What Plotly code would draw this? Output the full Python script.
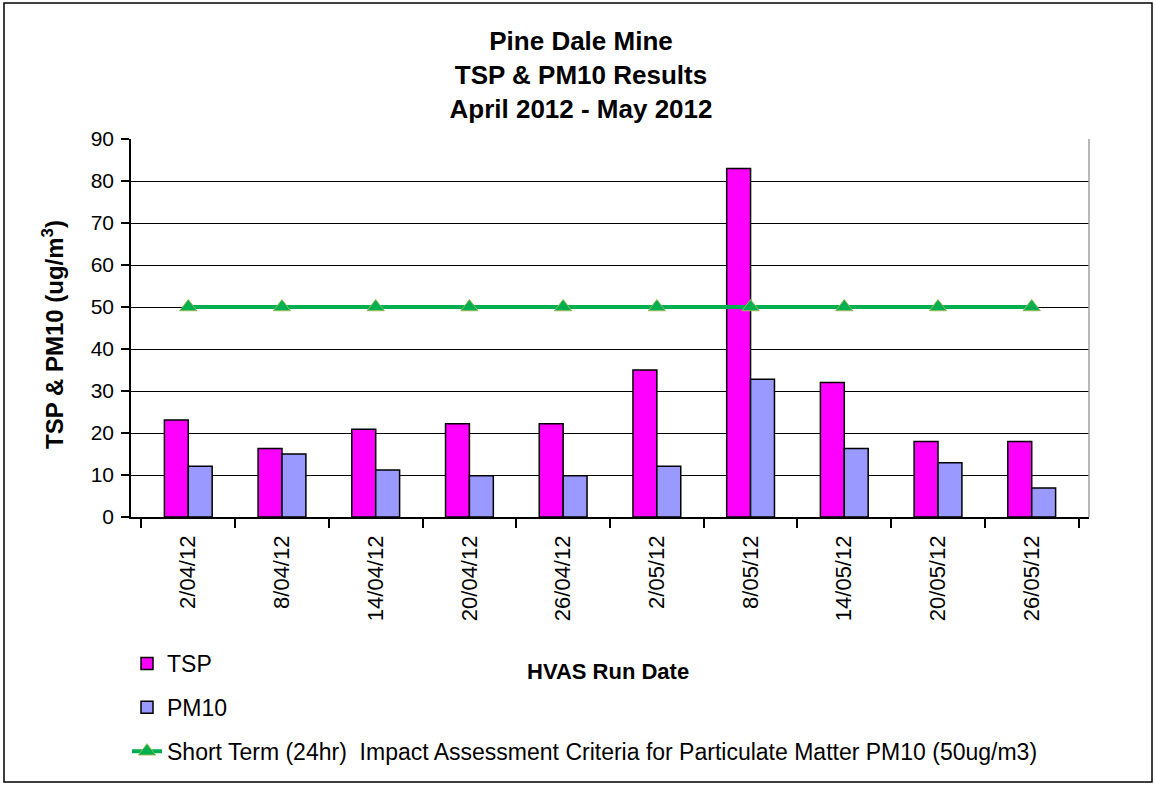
import plotly.graph_objects as go

dates = ["2/04/12", "8/04/12", "14/04/12", "20/04/12", "26/04/12",
         "2/05/12", "8/05/12", "14/05/12", "20/05/12", "26/05/12"]
tsp = [23.1, 16.3, 20.9, 22.2, 22.2, 35.0, 83.0, 32.0, 18.0, 18.0]
pm10 = [12.1, 15.0, 11.2, 9.8, 9.8, 12.1, 32.8, 16.3, 12.9, 6.9]
criteria = [50] * 10
yticks = [0, 10, 20, 30, 40, 50, 60, 70, 80, 90]

W, H = 1155, 785
L, R, T, B = 131, 1089, 139, 517

def px(x):
    return (x - L) / (R - L)

def py(y):
    return (B - y) / (B - T)

fig = go.Figure()
fig.add_trace(go.Bar(x=dates, y=tsp, name="TSP", marker=dict(color="#FF00FF", line=dict(color="black", width=1.5)),
                     legendgroup="a"))
fig.add_trace(go.Bar(x=dates, y=pm10, name="PM10", marker=dict(color="#9999FF", line=dict(color="black", width=1.5)),
                     legendgroup="b"))
fig.add_trace(go.Scatter(x=dates, y=criteria, mode="lines+markers",
                         name="Short Term (24hr)  Impact Assessment Criteria for Particulate Matter PM10 (50ug/m3)",
                         line=dict(color="#00B050", width=4),
                         marker=dict(symbol="triangle-up", size=15, color="#00B050", line=dict(color="#9BBB59", width=1)),
                         legendgroup="c"))

font = "Arial, Liberation Sans, sans-serif"
fig.update_layout(
    width=W, height=H,
    margin=dict(l=L, r=W - R, t=T, b=H - B, autoexpand=False),
    paper_bgcolor="white", plot_bgcolor="white",
    font=dict(family=font, size=20, color="black"),
    barmode="group", bargap=0.49, bargroupgap=0,
    title=dict(text="<b>Pine Dale Mine<br>TSP & PM10 Results<br>April 2012 - May 2012</b>",
               x=px(581), xref="paper", xanchor="center", yref="container", y=1 - 50 / H, yanchor="top",
               font=dict(size=26, family=font)),
    showlegend=True,
    legend=dict(x=px(127), y=py(642), xanchor="left", yanchor="top", font=dict(size=23, family=font),
                traceorder="grouped", tracegroupgap=11, bgcolor="rgba(0,0,0,0)"),
    xaxis=dict(type="category", tickangle=-90, tickson="boundaries", ticks="outside", ticklen=9,
               tickcolor="black", tickwidth=1.5, showline=True, linecolor="black", linewidth=1.5,
               showgrid=False, tickfont=dict(size=22), automargin=False, ticklabelstandoff=8),
    yaxis=dict(range=[0, 90], tickvals=yticks, ticks="outside", ticklen=8, tickcolor="black", tickwidth=1.5,
               showline=True, linecolor="black", linewidth=1.5, showgrid=True, gridcolor="black", gridwidth=1,
               zeroline=False, tickfont=dict(size=21), automargin=False, ticklabelstandoff=3),
    annotations=[
        dict(text="<b>HVAS Run Date</b>", xref="paper", yref="paper", x=px(608), y=py(671),
             xanchor="center", yanchor="middle",
             showarrow=False, font=dict(size=22, family=font)),
        dict(text="<b>TSP & PM10 (ug/m<sup>3</sup>)</b>", xref="paper", yref="paper", x=px(53), y=py(335),
             xanchor="center", yanchor="middle",
             showarrow=False, textangle=-90, font=dict(size=24, family=font)),
    ],
    shapes=[
        dict(type="rect", xref="paper", yref="paper", x0=px(4), x1=px(1152), y0=py(782), y1=py(3),
             line=dict(color="black", width=1.5), layer="below"),
        dict(type="line", xref="paper", yref="paper", x0=1, x1=1, y0=0, y1=1,
             line=dict(color="#a0a0a0", width=1.5)),
    ],
)

fig.write_html("out.html", config={"displayModeBar": False},
               post_script="document.body.style.margin='0';document.body.style.overflow='hidden';")
